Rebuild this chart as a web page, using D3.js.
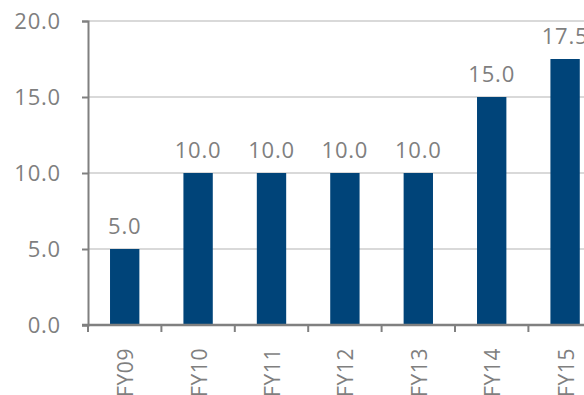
<!DOCTYPE html>
<html>
<head>
<meta charset="utf-8">
<script src="https://cdn.jsdelivr.net/npm/d3@7"></script>
<style>
  body { margin: 0; background: #fff; overflow: hidden; }
  text { font-family: "Open Sans", sans-serif; fill: #7f7f7f; }
</style>
</head>
<body>
<div id="chart"></div>
<script>
var years = ["FY09", "FY10", "FY11", "FY12", "FY13", "FY14", "FY15"];
var values = [5.0, 10.0, 10.0, 10.0, 10.0, 15.0, 17.5];
var yTicks = [0, 5, 10, 15, 20];

var width = 584, height = 395;
var marginLeft = 88, plotTop = 21, plotBottom = 325;

var svg = d3.select("#chart").append("svg")
  .attr("width", width)
  .attr("height", height);

var x = d3.scaleBand()
  .domain(years)
  .range([marginLeft, marginLeft + 7 * 73.4])
  .paddingInner(0.6)
  .paddingOuter(0.3);

var y = d3.scaleLinear()
  .domain([0, 20])
  .range([plotBottom, plotTop]);

// gridlines
svg.append("g")
  .selectAll("line")
  .data(yTicks.filter(d => d > 0))
  .enter()
  .append("line")
  .attr("x1", marginLeft)
  .attr("x2", width)
  .attr("y1", d => y(d))
  .attr("y2", d => y(d))
  .attr("stroke", "#d9d9d9")
  .attr("stroke-width", 2);

// bars
svg.append("g")
  .selectAll("rect")
  .data(years)
  .enter()
  .append("rect")
  .attr("x", d => x(d))
  .attr("width", x.bandwidth())
  .attr("y", (d, i) => y(values[i]))
  .attr("height", (d, i) => y(0) - y(values[i]))
  .attr("fill", "#004479");

// value labels
svg.append("g")
  .selectAll("text")
  .data(years)
  .enter()
  .append("text")
  .attr("x", d => x(d) + x.bandwidth() / 2)
  .attr("y", (d, i) => y(values[i]) - 15)
  .attr("text-anchor", "middle")
  .style("font-size", "22px")
  .style("letter-spacing", "0.8px")
  .text((d, i) => values[i].toFixed(1));

// y axis
var yAxis = svg.append("g")
  .attr("transform", "translate(" + marginLeft + ",0)")
  .call(d3.axisLeft(y).tickValues(yTicks).tickSize(6).tickPadding(21).tickFormat(d3.format(".1f")));
yAxis.select(".domain").attr("stroke", "#808080").attr("stroke-width", 2);
yAxis.selectAll(".tick line").attr("stroke", "#808080").attr("stroke-width", 2);
yAxis.selectAll(".tick text")
  .attr("fill", "#7f7f7f")
  .style("font-size", "22px")
  .style("letter-spacing", "0.8px")
  .style("font-family", "'Open Sans', sans-serif");

// x axis baseline with boundary ticks
var bounds = years.map(d => x(d) - x.step() * x.paddingInner() / 2);
svg.append("line")
  .attr("x1", marginLeft - 6)
  .attr("x2", width)
  .attr("y1", plotBottom)
  .attr("y2", plotBottom)
  .attr("stroke", "#808080")
  .attr("stroke-width", 2.5);
svg.append("g")
  .selectAll("line")
  .data(bounds)
  .enter()
  .append("line")
  .attr("x1", d => d)
  .attr("x2", d => d)
  .attr("y1", plotBottom)
  .attr("y2", plotBottom + 7)
  .attr("stroke", "#808080")
  .attr("stroke-width", 2);

// rotated category labels
svg.append("g")
  .selectAll("text")
  .data(years)
  .enter()
  .append("text")
  .attr("transform", d => "translate(" + (x(d) + x.bandwidth() / 2 + 8.5) + "," + 348 + ") rotate(-90)")
  .attr("text-anchor", "end")
  .style("font-size", "21px")
  .style("letter-spacing", "0.6px")
  .text(d => d);
</script>
</body>
</html>
